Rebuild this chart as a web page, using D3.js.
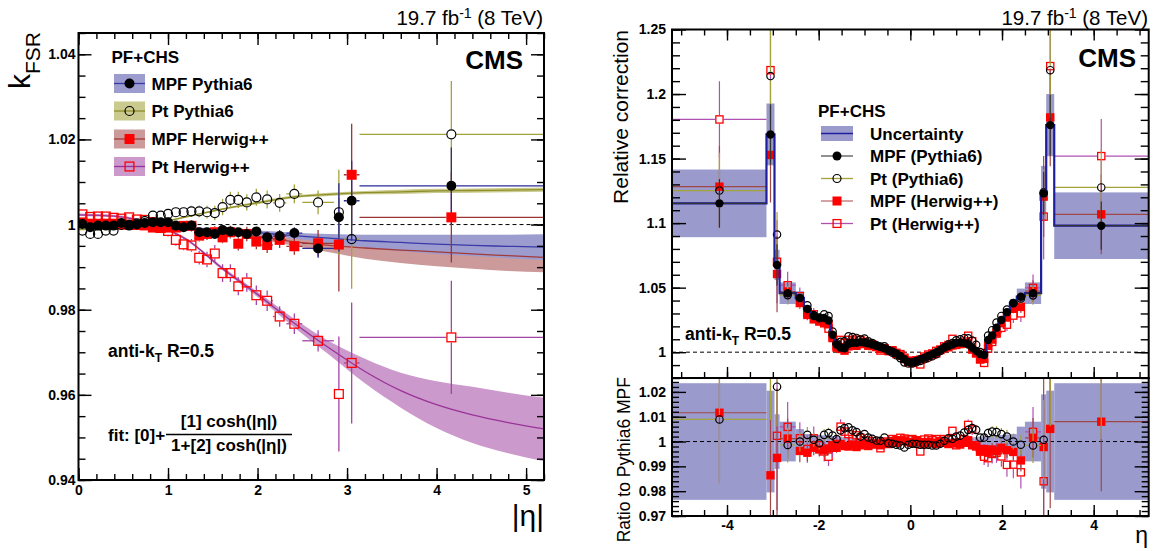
<!DOCTYPE html>
<html><head><meta charset="utf-8">
<script src="https://cdn.jsdelivr.net/npm/d3@7"></script>
<style>
body{margin:0;background:#fff;}
svg{font-family:"Liberation Sans",Arial,Helvetica,sans-serif;}
</style></head><body>
<svg id="c" width="1155" height="551"></svg>
<script>
// ================= DATA =================
// ---- Left panel: k_FSR vs |eta| ----
const leftEdges=[0,0.087,0.174,0.261,0.348,0.435,0.522,0.609,0.696,0.783,0.879,0.957,1.044,1.131,1.218,1.305,1.392,1.479,1.566,1.653,1.74,1.83,1.93,2.043,2.172,2.322,2.5,2.853,2.964,3.139,5.191];
const kMpfPythia=[1.00016,0.99937,0.99976,0.99976,0.99976,1.00039,0.99976,1.0000,1.00039,1.00055,1.00055,1.00055,0.99976,0.99937,0.99976,0.9982,0.9982,0.9978,0.9987,0.9984,0.9982,0.9978,0.9984,0.9970,0.9973,0.9980,0.9944,1.0017,1.0056,1.0091];
const kPtPythia=[0.99859,0.9978,0.9978,0.9986,0.9986,0.99992,0.99992,1.0003,1.0008,1.0021,1.0021,1.0025,1.0029,1.0029,1.0031,1.0031,1.0029,1.0027,1.0041,1.0058,1.0058,1.0052,1.0064,1.0059,1.0051,1.0072,1.0052,1.0029,0.9966,1.0212];
const kMpfHerwig=[1.0005,1.0002,1.0002,1.0002,1.0002,1.0000,1.0000,0.9999,0.9998,0.9993,0.9993,0.9993,0.9993,0.9997,0.9997,0.9974,0.9978,0.9982,0.9970,0.9982,0.9955,0.9978,0.9960,0.9952,0.9964,0.9949,0.9956,0.9953,1.0117,1.0017];
const kPtHerwig=[1.0024,1.0018,1.0019,1.0019,1.0016,1.0014,1.0017,1.0012,1.0011,1.0006,0.9992,0.9985,0.9964,0.99535,0.9951,0.9922,0.9918,0.9932,0.9886,0.9886,0.9855,0.9864,0.9834,0.9821,0.9784,0.9767,0.9727,0.9602,0.9675,0.9735];
const eLMpfPythia=[0.0007,0.0007,0.0007,0.0007,0.0007,0.0007,0.0007,0.0007,0.0007,0.0007,0.0007,0.0007,0.0008,0.0008,0.0008,0.0009,0.0009,0.0009,0.0009,0.0009,0.0010,0.0010,0.0011,0.0013,0.0014,0.0014,0.0022,0.0080,0.0094,0.0090];
const eLPtPythia=[0.0007,0.0007,0.0007,0.0007,0.0007,0.0007,0.0007,0.0008,0.0008,0.0008,0.0009,0.0010,0.0011,0.0012,0.0013,0.0014,0.0015,0.0017,0.0019,0.0019,0.0019,0.0019,0.0020,0.0021,0.0021,0.0022,0.0028,0.0100,0.0117,0.0125];
const eLMpfHerwig=[0.0007,0.0007,0.0007,0.0007,0.0007,0.0007,0.0007,0.0008,0.0008,0.0008,0.0009,0.0010,0.0011,0.0012,0.0013,0.0014,0.0014,0.0014,0.0014,0.0015,0.0016,0.0017,0.0018,0.0019,0.0019,0.0020,0.0031,0.0110,0.0120,0.0106];
const eLPtHerwig=[0.0008,0.0008,0.0008,0.0008,0.0008,0.0008,0.0008,0.0009,0.0010,0.0011,0.0012,0.0013,0.0014,0.0014,0.0015,0.0016,0.0018,0.0020,0.0021,0.0021,0.0021,0.0022,0.0023,0.0024,0.0024,0.0024,0.0025,0.0135,0.0142,0.0133];
// fit curves (sampled) with uncertainty bands
const fitEta=[0,0.4,0.8,1.2,1.6,2.0,2.4,2.8,3.2,3.6,4.0,4.4,4.8,5.2];
const fitMpfPythia=[1.0000,0.99995,0.9997,0.9993,0.99875,0.9981,0.9974,0.9968,0.9962,0.9958,0.9954,0.9951,0.9949,0.9947];
const fitMpfPythiaLo=[0.9998,0.99975,0.9995,0.9991,0.99845,0.9976,0.9967,0.9956,0.9946,0.9938,0.9931,0.9926,0.9921,0.9917];
const fitMpfPythiaHi=[1.0002,1.00015,0.9999,0.9995,0.99905,0.9986,0.9981,0.9978,0.9976,0.9976,0.9976,0.9976,0.9976,0.9977];
const fitPtPythia=[0.9989,0.9991,1.0001,1.0018,1.0036,1.0051,1.0065,1.0071,1.0075,1.0077,1.0079,1.0080,1.0081,1.0082];
const fitPtPythiaLo=[0.9986,0.9988,0.9999,1.0016,1.0034,1.0048,1.0062,1.0067,1.0071,1.0072,1.0074,1.0075,1.0076,1.0077];
const fitPtPythiaHi=[0.9992,0.9994,1.0003,1.0020,1.0038,1.0054,1.0068,1.0075,1.0079,1.0082,1.0084,1.0085,1.0086,1.0087];
const fitMpfHerwig=[1.0004,1.0003,0.9999,0.9992,0.9982,0.9972,0.9960,0.9951,0.9945,0.9940,0.9936,0.9931,0.9927,0.9923];
const fitMpfHerwigLo=[1.0001,1.0000,0.9996,0.9989,0.9978,0.9966,0.9950,0.9935,0.9920,0.9910,0.9902,0.9896,0.9891,0.9888];
const fitMpfHerwigHi=[1.0007,1.0006,1.0002,0.9995,0.9986,0.9978,0.9968,0.9963,0.9958,0.9957,0.9957,0.9954,0.9950,0.9947];
const fitPtHerwig=[1.0023,1.0020,1.0003,0.9966,0.9898,0.9836,0.9770,0.9710,0.9655,0.9610,0.9577,0.9553,0.9535,0.9520];
const fitPtHerwigLo=[1.0020,1.0017,1.0001,0.9963,0.9894,0.9830,0.9760,0.9694,0.9627,0.9570,0.9522,0.9487,0.9463,0.9444];
const fitPtHerwigHi=[1.0026,1.0023,1.0005,0.9969,0.9902,0.9842,0.9780,0.9726,0.9685,0.9652,0.9632,0.9619,0.9605,0.9593];
const leftLegend=["MPF Pythia6","Pt Pythia6","MPF Herwig++","Pt Herwig++"];
const leftYTicks=[0.94,0.96,0.98,1,1.02,1.04];
const leftXTicks=[0,1,2,3,4,5];

// ---- Right panel: relative correction vs eta ----
const rightEdges=[-5.191,-3.139,-2.964,-2.853,-2.5,-2.322,-2.172,-2.043,-1.93,-1.83,-1.74,-1.653,-1.566,-1.479,-1.392,-1.305,-1.218,-1.131,-1.044,-0.957,-0.879,-0.783,-0.696,-0.609,-0.522,-0.435,-0.348,-0.261,-0.174,-0.087,0,0.087,0.174,0.261,0.348,0.435,0.522,0.609,0.696,0.783,0.879,0.957,1.044,1.131,1.218,1.305,1.392,1.479,1.566,1.653,1.74,1.83,1.93,2.043,2.172,2.322,2.5,2.853,2.964,3.139,5.191];
const relMpfPythia=[1.1153,1.1687,1.0676,1.0457,1.0420,1.0335,1.0280,1.0270,1.0265,1.0245,1.0135,1.0060,1.0035,1.0030,1.0065,1.0072,1.0072,1.0078,1.0075,1.0068,1.0060,1.0050,1.0040,1.0030,1.0018,1.0005,0.9990,0.9970,0.9945,0.9925,
 0.9922,0.9932,0.9945,0.9958,0.9970,0.9985,1.0000,1.0018,1.0035,1.0048,1.0060,1.0072,1.0075,1.0072,1.0060,1.0035,1.0010,0.9985,0.9978,1.0095,1.0130,1.0190,1.0250,1.0310,1.0380,1.0430,1.0457,1.1230,1.1759,1.0980];
const ratioPtPythia=[1.0089,1.0387,1.0221,0.9986,1.0000,1.0027,1.0007,0.9993,1.0027,1.0034,1.0024,1.0010,1.0045,1.0054,1.0057,1.0045,1.0038,1.0020,1.0030,1.0016,1.0011,1.0004,1.0003,1.0016,0.9993,0.9991,0.9987,0.9984,0.9976,0.9987,
 0.9991,0.9990,0.9987,0.9987,0.9987,0.9984,0.9984,0.9991,1.0003,1.0013,1.0011,1.0020,1.0024,1.0036,1.0047,1.0054,1.0047,1.0016,1.0016,1.0034,1.0040,1.0038,1.0030,1.0020,1.0000,0.9987,0.9984,1.0007,1.0362,1.0270];
const ratioMpfHerwig=[1.0116,0.9864,0.9934,1.0012,0.9962,0.9955,0.9975,0.9968,0.9965,0.9972,0.9985,0.9975,0.9990,0.9982,0.9980,0.9988,0.9978,0.9985,0.9990,0.9982,0.9988,0.9992,0.9985,0.9995,0.9990,1.0002,0.9995,1.0005,1.0002,0.9998,
 0.9995,1.0002,0.9998,0.9992,0.9998,0.9995,0.9990,0.9998,0.9995,0.9990,0.9992,0.9995,0.9988,0.9995,1.0005,0.9985,0.9980,0.9960,0.9970,0.9955,0.9968,0.9962,0.9975,0.9965,0.9958,0.9924,1.0015,0.9978,1.0051,1.0080];
const ratioPtHerwig=[1.0583,1.0426,1.0023,1.0059,1.0013,0.9970,1.0013,0.9985,0.9960,0.9939,0.9975,0.9990,1.0060,1.0040,1.0030,1.0010,1.0025,1.0015,1.0005,0.9995,1.0002,0.9990,0.9973,1.0000,0.9995,1.0010,1.0005,1.0015,1.0012,1.0008,
 1.0010,1.0005,0.9960,1.0008,1.0012,1.0005,1.0010,1.0002,1.0010,1.0008,1.0043,0.9985,0.9995,1.0010,1.0067,1.0050,0.9985,0.9960,0.9939,0.9933,0.9950,0.9955,0.9940,0.9906,0.9907,0.9876,1.0039,0.9840,1.0389,1.0491];
const relUncert=[0.0235,0.0205,0.0110,0.0080,0.0050,0.0030,0.0028,0.0026,0.0025,0.0024,0.0022,0.0022,0.0020,0.0018,0.0017,0.0016,0.0015,0.0014,0.0013,0.0013,0.0012,0.0012,0.0012,0.0012,0.0012,0.0012,0.0012,0.0012,0.0012,0.0012,
 0.0012,0.0012,0.0012,0.0012,0.0012,0.0012,0.0012,0.0012,0.0012,0.0012,0.0013,0.0013,0.0014,0.0015,0.0016,0.0017,0.0018,0.0020,0.0022,0.0022,0.0024,0.0025,0.0026,0.0028,0.0030,0.0060,0.0080,0.0190,0.0205,0.0235];
// relative statistical errors, indexed by |eta| bin (outwards from 0)
const eRMpfPythia=[0.0005,0.0005,0.0005,0.0005,0.0005,0.0005,0.0005,0.0005,0.0005,0.0005,0.0005,0.0005,0.0006,0.0006,0.0007,0.0007,0.0008,0.0009,0.0010,0.0011,0.0012,0.0013,0.0014,0.0015,0.0018,0.0020,0.0030,0.0150,0.0200,0.0170];
const eRPtPythia=[0.0008,0.0008,0.0008,0.0008,0.0008,0.0008,0.0008,0.0008,0.0008,0.0008,0.0008,0.0009,0.0010,0.0010,0.0011,0.0012,0.0013,0.0015,0.0018,0.0020,0.0022,0.0024,0.0025,0.0028,0.0032,0.0040,0.0070,0.0160,0.0300,0.0260];
const eRMpfHerwig=[0.0010,0.0010,0.0010,0.0010,0.0010,0.0010,0.0010,0.0010,0.0010,0.0010,0.0010,0.0011,0.0012,0.0013,0.0014,0.0015,0.0016,0.0018,0.0020,0.0023,0.0025,0.0027,0.0028,0.0030,0.0034,0.0045,0.0080,0.0280,0.0320,0.0280];
const eRPtHerwig=[0.0015,0.0015,0.0015,0.0015,0.0015,0.0015,0.0015,0.0015,0.0015,0.0015,0.0015,0.0016,0.0018,0.0020,0.0022,0.0024,0.0026,0.0030,0.0034,0.0036,0.0038,0.0040,0.0042,0.0048,0.0055,0.0065,0.0100,0.0300,0.0350,0.0250];
const rightLegend=["Uncertainty","MPF (Pythia6)","Pt (Pythia6)","MPF (Herwig++)","Pt (Herwig++)"];
const rightYTicks=[1,1.05,1.1,1.15,1.2,1.25];
const ratioYTicks=[0.97,0.98,0.99,1,1.01,1.02];
const rightXTicks=[-4,-2,0,2,4];

// ================= STYLE =================
const STY={
 mpfP:{marker:"dot", errL:"#2b2b9a", errR:"#333333", line:"#3a3aa8", band:"#9c9ccf", leg:"#555"},
 ptP:{marker:"ocirc", errL:"#a3a33a", errR:"#a3a33a", line:"#8f8f2a", band:"#caca8e", leg:"#a3a33a"},
 mpfH:{marker:"sq", errL:"#9a3535", errR:"#a04848", line:"#a33a3a", band:"#cc9a9a", leg:"#c07070"},
 ptH:{marker:"osq", errL:"#a445a4", errR:"#b050b0", line:"#993399", band:"#cc99cc", leg:"#b050b0"}
};
const UNC_BAND="#9a9acd", UNC_LINE="#1e1e9e";

const svg=d3.select("#c");
const fmt=d=>String(+d.toFixed(4));

function drawMarker(sel,type,cx,cy,s){
  if(type==="dot") sel.append("circle").attr("cx",cx).attr("cy",cy).attr("r",s).attr("fill","#000");
  else if(type==="ocirc") sel.append("circle").attr("cx",cx).attr("cy",cy).attr("r",s-0.5).attr("fill","none").attr("stroke","#000").attr("stroke-width",1.2);
  else if(type==="sq") sel.append("rect").attr("x",cx-s).attr("y",cy-s).attr("width",2*s).attr("height",2*s).attr("fill","#ff0000");
  else sel.append("rect").attr("x",cx-s+0.6).attr("y",cy-s+0.6).attr("width",2*s-1.2).attr("height",2*s-1.2).attr("fill","none").attr("stroke","#ff0000").attr("stroke-width",1.3);
}
function errBar(sel,xa,xb,xc,ya,yb,yc,gap,color,w){
  const segs=[];
  if(ya < yc-gap) segs.push([xc,ya,xc,yc-gap]);
  if(yb > yc+gap) segs.push([xc,yc+gap,xc,yb]);
  if(xa < xc-gap) segs.push([xa,yc,xc-gap,yc]);
  if(xb > xc+gap) segs.push([xc+gap,yc,xb,yc]);
  segs.forEach(s=>sel.append("line").attr("x1",s[0]).attr("y1",s[1]).attr("x2",s[2]).attr("y2",s[3]).attr("stroke",color).attr("stroke-width",w));
}
function axes(g,x,y,o){
  const [x0,x1]=x.range(), [yb,yt]=y.range();
  function style(a){a.select(".domain").remove();a.selectAll("line").attr("stroke","#000").attr("stroke-width",1.4);
    a.attr("font-family",'"Liberation Sans",Arial,sans-serif').attr("font-size",14).attr("font-weight","bold");a.selectAll("text").attr("fill","#000");}
  if(o.xMajor){
    style(g.append("g").attr("transform",`translate(0,${yb})`).call(d3.axisBottom(x).tickValues(o.xMajor).tickSize(-o.xMaj).tickPadding(o.xPad||6).tickFormat(o.xLabels?fmt:"")));
    style(g.append("g").attr("transform",`translate(0,${yb})`).call(d3.axisBottom(x).tickValues(o.xMinor).tickSize(-o.xMin).tickFormat("")));
    if(o.xTop!==false){
      style(g.append("g").attr("transform",`translate(0,${yt})`).call(d3.axisTop(x).tickValues(o.xMajor).tickSize(-o.xMaj).tickFormat("")));
      style(g.append("g").attr("transform",`translate(0,${yt})`).call(d3.axisTop(x).tickValues(o.xMinor).tickSize(-o.xMin).tickFormat("")));
    }
  }
  style(g.append("g").attr("transform",`translate(${x0},0)`).call(d3.axisLeft(y).tickValues(o.yMajor).tickSize(-o.yMaj).tickPadding(o.yPad||4).tickFormat(fmt)));
  style(g.append("g").attr("transform",`translate(${x0},0)`).call(d3.axisLeft(y).tickValues(o.yMinor).tickSize(-o.yMin).tickFormat("")));
  style(g.append("g").attr("transform",`translate(${x1},0)`).call(d3.axisRight(y).tickValues(o.yMajor).tickSize(-o.yMaj).tickFormat("")));
  style(g.append("g").attr("transform",`translate(${x1},0)`).call(d3.axisRight(y).tickValues(o.yMinor).tickSize(-o.yMin).tickFormat("")));
}
function lumiText(xr){
  const t=svg.append("text").attr("x",xr).attr("y",25).attr("text-anchor","end").attr("font-size",20.5).attr("fill","#000");
  t.append("tspan").text("19.7 fb");
  t.append("tspan").attr("dy",-7).attr("font-size",14).text("-1");
  t.append("tspan").attr("dy",7).text(" (8 TeV)");
}
function antiKt(x,y){
  const t=svg.append("text").attr("x",x).attr("y",y).attr("font-size",17.5).attr("font-weight","bold");
  t.append("tspan").text("anti-k");
  t.append("tspan").attr("dy",5).attr("font-size",12).text("T");
  t.append("tspan").attr("dy",-5).text(" R=0.5");
}

// ================= LEFT PANEL =================
const xL=d3.scaleLinear().domain([0,5.2]).range([78.5,544]);
const yL=d3.scaleLinear().domain([0.94,1.045]).range([480,33]);
svg.append("clipPath").attr("id","clipL").append("rect").attr("x",78.5).attr("y",33).attr("width",465.5).attr("height",447);
const pL=svg.append("g").attr("clip-path","url(#clipL)");
pL.append("line").attr("x1",xL(0)).attr("x2",xL(5.2)).attr("y1",yL(1)).attr("y2",yL(1)).attr("stroke","#000").attr("stroke-dasharray","4,3").attr("stroke-width",1);
const fits={
 mpfH:[fitMpfHerwig,fitMpfHerwigLo,fitMpfHerwigHi],
 mpfP:[fitMpfPythia,fitMpfPythiaLo,fitMpfPythiaHi],
 ptP:[fitPtPythia,fitPtPythiaLo,fitPtPythiaHi],
 ptH:[fitPtHerwig,fitPtHerwigLo,fitPtHerwigHi]
};
Object.keys(fits).forEach(k=>{
  const [m,lo,hi]=fits[k];
  const area=d3.area().x(d=>xL(d)).y0((d,i)=>yL(lo[i])).y1((d,i)=>yL(hi[i])).curve(d3.curveMonotoneX);
  pL.append("path").attr("d",area(fitEta)).attr("fill",STY[k].band);
});
Object.keys(fits).forEach(k=>{
  const m=fits[k][0];
  const line=d3.line().x(d=>xL(d)).y((d,i)=>yL(m[i])).curve(d3.curveMonotoneX);
  pL.append("path").attr("d",line(fitEta)).attr("fill","none").attr("stroke",STY[k].line).attr("stroke-width",1.3);
});
const leftSeries=[["ptH",kPtHerwig,eLPtHerwig],["mpfH",kMpfHerwig,eLMpfHerwig],["ptP",kPtPythia,eLPtPythia],["mpfP",kMpfPythia,eLMpfPythia]];
leftSeries.forEach(([k,v,e])=>{
  v.forEach((val,i)=>{
    const lo=leftEdges[i],hi=leftEdges[i+1],c=(lo+hi)/2;
    errBar(pL,xL(lo),xL(hi),xL(c),yL(val+e[i]),yL(val-e[i]),yL(val),5,STY[k].errL,1.3);
  });
});
leftSeries.forEach(([k,v])=>{
  v.forEach((val,i)=>{
    const c=(leftEdges[i]+leftEdges[i+1])/2;
    drawMarker(pL,STY[k].marker,xL(c),yL(val),5);
  });
});
svg.append("rect").attr("x",78.5).attr("y",33).attr("width",465.5).attr("height",447).attr("fill","none").attr("stroke","#000").attr("stroke-width",2);
axes(svg.append("g"),xL,yL,{xMajor:leftXTicks,xMinor:d3.range(0,5.21,0.2),xMaj:12,xMin:6,xLabels:true,xPad:5,
  yMajor:leftYTicks,yMinor:d3.range(0.94,1.0451,0.005),yMaj:13,yMin:7,yPad:3});
// left legend
svg.append("text").attr("x",111.5).attr("y",63).attr("font-size",17).attr("font-weight","bold").text("PF+CHS");
["mpfP","ptP","mpfH","ptH"].forEach((k,i)=>{
  const cy=[83.5,111,139,166.5][i];
  svg.append("rect").attr("x",114).attr("y",cy-9.5).attr("width",31).attr("height",19).attr("fill",STY[k].band);
  svg.append("line").attr("x1",114).attr("x2",145).attr("y1",cy).attr("y2",cy).attr("stroke",STY[k].line).attr("stroke-width",1.3);
  drawMarker(svg,STY[k].marker,129.5,cy,5);
  svg.append("text").attr("x",151.5).attr("y",cy+6).attr("font-size",17).attr("font-weight","bold").text(leftLegend[i]);
});
svg.append("text").attr("x",523).attr("y",69).attr("text-anchor","end").attr("font-size",26).attr("font-weight","bold").text("CMS");
lumiText(543);
antiKt(108,357);
// fit formula
svg.append("text").attr("x",108).attr("y",441).attr("font-size",17).attr("font-weight","bold").text("fit: [0]+");
svg.append("text").attr("x",229).attr("y",427).attr("text-anchor","middle").attr("font-size",17).attr("font-weight","bold").text("[1] cosh(|η|)");
svg.append("line").attr("x1",166).attr("x2",292).attr("y1",434.5).attr("y2",434.5).attr("stroke","#000").attr("stroke-width",1.3);
svg.append("text").attr("x",229).attr("y",451).attr("text-anchor","middle").attr("font-size",17).attr("font-weight","bold").text("1+[2] cosh(|η|)");
// axis titles
const yt=svg.append("text").attr("transform","translate(30,32) rotate(-90)").attr("text-anchor","end").attr("font-size",30);
yt.append("tspan").text("k");
yt.append("tspan").attr("dy",10).attr("font-size",21).text("FSR");
svg.append("text").attr("x",544).attr("y",526).attr("text-anchor","end").attr("font-size",30).text("|η|");

// ================= RIGHT PANEL =================
const xR=d3.scaleLinear().domain([-5.2,5.2]).range([672,1148.7]);
const yT=d3.scaleLinear().domain([0.98,1.25]).range([378,29.5]);
const yB=d3.scaleLinear().domain([0.97,1.0256]).range([516,378]);
svg.append("clipPath").attr("id","clipT").append("rect").attr("x",672).attr("y",29.5).attr("width",476.7).attr("height",348.5);
svg.append("clipPath").attr("id","clipB").append("rect").attr("x",672).attr("y",378).attr("width",476.7).attr("height",138);
const pT=svg.append("g").attr("clip-path","url(#clipT)");
const pB=svg.append("g").attr("clip-path","url(#clipB)");
const nB=relMpfPythia.length;
const absIdx=i=> i<nB/2 ? nB/2-1-i : i-nB/2;
// uncertainty bands
relMpfPythia.forEach((v,i)=>{
  const u=relUncert[i],x0=xR(rightEdges[i]),x1=xR(rightEdges[i+1]);
  pT.append("rect").attr("x",x0).attr("width",x1-x0).attr("y",yT(v*(1+u))).attr("height",yT(v*(1-u))-yT(v*(1+u))).attr("fill",UNC_BAND);
  pB.append("rect").attr("x",x0).attr("width",x1-x0).attr("y",yB(1+u)).attr("height",yB(1-u)-yB(1+u)).attr("fill",UNC_BAND);
});
pT.append("line").attr("x1",672).attr("x2",1148.7).attr("y1",yT(1)).attr("y2",yT(1)).attr("stroke","#000").attr("stroke-dasharray","4,3");
pB.append("line").attr("x1",672).attr("x2",1148.7).attr("y1",yB(1)).attr("y2",yB(1)).attr("stroke","#000").attr("stroke-dasharray","4,3");
const rSeries=[["ptH",ratioPtHerwig,eRPtHerwig],["mpfH",ratioMpfHerwig,eRMpfHerwig],["ptP",ratioPtPythia,eRPtPythia]];
// top panel: other series = MPF Pythia6 x ratio
rSeries.forEach(([k,r,e])=>{
  r.forEach((rv,i)=>{
    const v=relMpfPythia[i]*rv, ee=e[absIdx(i)]*v;
    const lo=rightEdges[i],hi=rightEdges[i+1],c=(lo+hi)/2;
    errBar(pT,xR(lo),xR(hi),xR(c),yT(v+ee),yT(v-ee),yT(v),4.2,STY[k].errR,1.2);
    drawMarker(pT,STY[k].marker,xR(c),yT(v),4.2);
  });
});
// step line
const stepPts=[];
relMpfPythia.forEach((v,i)=>{stepPts.push([rightEdges[i],v]);stepPts.push([rightEdges[i+1],v]);});
pT.append("path").attr("d",d3.line().x(d=>xR(d[0])).y(d=>yT(d[1]))(stepPts)).attr("fill","none").attr("stroke",UNC_LINE).attr("stroke-width",2.2);
relMpfPythia.forEach((v,i)=>{
  const lo=rightEdges[i],hi=rightEdges[i+1],c=(lo+hi)/2,ee=eRMpfPythia[absIdx(i)]*v;
  errBar(pT,xR(lo),xR(hi),xR(c),yT(v+ee),yT(v-ee),yT(v),4.2,STY.mpfP.errR,1.2);
  drawMarker(pT,"dot",xR(c),yT(v),4.2);
});
// ratio panel
rSeries.forEach(([k,r,e])=>{
  r.forEach((rv,i)=>{
    const ee=e[absIdx(i)];
    const lo=rightEdges[i],hi=rightEdges[i+1],c=(lo+hi)/2;
    errBar(pB,xR(lo),xR(hi),xR(c),yB(rv+ee),yB(rv-ee),yB(rv),4.2,STY[k].errR,1.2);
    drawMarker(pB,STY[k].marker,xR(c),yB(rv),4.2);
  });
});
svg.append("rect").attr("x",672).attr("y",29.5).attr("width",476.7).attr("height",348.5).attr("fill","none").attr("stroke","#000").attr("stroke-width",2);
svg.append("rect").attr("x",672).attr("y",378).attr("width",476.7).attr("height",138).attr("fill","none").attr("stroke","#000").attr("stroke-width",2);
axes(svg.append("g"),xR,yT,{xMajor:rightXTicks,xMinor:d3.range(-5,5.01,0.5),xMaj:11,xMin:6,xLabels:false,
  yMajor:rightYTicks,yMinor:d3.range(0.98,1.2501,0.01),yMaj:14,yMin:8,yPad:6});
axes(svg.append("g"),xR,yB,{xMajor:rightXTicks,xMinor:d3.range(-5,5.01,0.5),xMaj:11,xMin:6,xLabels:true,xPad:4,xTop:false,
  yMajor:ratioYTicks,yMinor:d3.range(0.97,1.0257,0.002),yMaj:14,yMin:7,yPad:6});
// right legend
svg.append("text").attr("x",818).attr("y",117).attr("font-size",17).attr("font-weight","bold").text("PF+CHS");
const rowY=[133.5,156,178.5,201,223.5];
svg.append("rect").attr("x",821).attr("y",rowY[0]-7.5).attr("width",32).attr("height",15).attr("fill",UNC_BAND);
svg.append("line").attr("x1",821).attr("x2",853).attr("y1",rowY[0]).attr("y2",rowY[0]).attr("stroke",UNC_LINE).attr("stroke-width",1.5);
["mpfP","ptP","mpfH","ptH"].forEach((k,i)=>{
  const cy=rowY[i+1];
  svg.append("line").attr("x1",821).attr("x2",853).attr("y1",cy).attr("y2",cy).attr("stroke",STY[k].leg).attr("stroke-width",1.3);
  drawMarker(svg,STY[k].marker,837,cy,4.5);
});
rightLegend.forEach((t,i)=>svg.append("text").attr("x",870).attr("y",rowY[i]+6).attr("font-size",17).attr("font-weight","bold").text(t));
svg.append("text").attr("x",1136).attr("y",67).attr("text-anchor","end").attr("font-size",26).attr("font-weight","bold").text("CMS");
lumiText(1148);
antiKt(685,340);
svg.append("text").attr("transform","translate(628,30) rotate(-90)").attr("text-anchor","end").attr("font-size",21).text("Relative correction");
svg.append("text").attr("transform","translate(630,377) rotate(-90)").attr("text-anchor","end").attr("font-size",17.5).text("Ratio to Pythia6 MPF");
svg.append("text").attr("x",1148).attr("y",543).attr("text-anchor","end").attr("font-size",23).text("η");
</script>
</body></html>
